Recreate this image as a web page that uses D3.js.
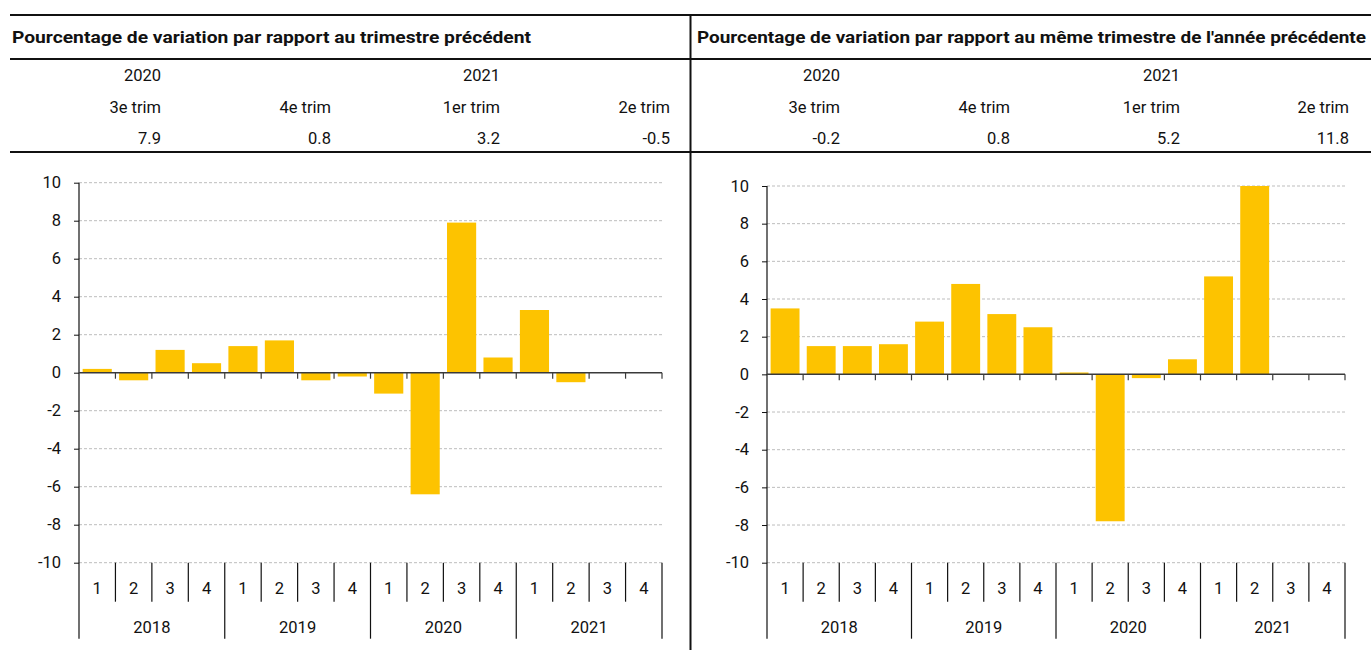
<!DOCTYPE html>
<html>
<head>
<meta charset="utf-8">
<script src="https://cdn.jsdelivr.net/npm/d3@7"></script>
<style>
  body { margin: 0; background: #fff; }
  svg { display: block; font-family: Roboto, "DejaVu Sans", sans-serif; }
  .hdr { font-size: 16.5px; fill: #111; }
  .title { font-size: 17px; font-weight: bold; fill: #111; }
  .tick-label { font-size: 16.5px; fill: #111; }
</style>
</head>
<body>
<svg id="chart" width="1371" height="650"></svg>
<script>
const years = ["2018", "2019", "2020", "2021"];
const quarters = ["1", "2", "3", "4"];

// quarterly change, 2018Q1 .. 2021Q4 (last two quarters not yet published)
const qoqValues = [0.2, -0.4, 1.2, 0.5, 1.4, 1.7, -0.4, -0.2,
                   -1.1, -6.4, 7.9, 0.8, 3.3, -0.5, null, null];
// change on same quarter of previous year
const yoyValues = [3.5, 1.5, 1.5, 1.6, 2.8, 4.8, 3.2, 2.5,
                   0.1, -7.8, -0.2, 0.8, 5.2, 11.8, null, null];

const headerYears = ["2020", "", "2021", ""];
const headerQuarters = ["3e trim", "4e trim", "1er trim", "2e trim"];
const qoqHeader = ["7.9", "0.8", "3.2", "-0.5"];
const yoyHeader = ["-0.2", "0.8", "5.2", "11.8"];

const titles = [
  "Pourcentage de variation par rapport au trimestre précédent",
  "Pourcentage de variation par rapport au même trimestre de l'année précédente"
];

const yTicks = d3.range(-10, 11, 2);

const svg = d3.select("#chart");

// table frame
svg.append("g")
  .attr("class", "frame")
  .selectAll("line")
  .data([15, 59, 152])
  .enter().append("line")
  .attr("x1", 10)
  .attr("x2", 1371)
  .attr("y1", d => d)
  .attr("y2", d => d)
  .style("stroke", "#111")
  .style("stroke-width", 2);

svg.append("line")
  .attr("x1", 690.5).attr("x2", 690.5)
  .attr("y1", 15).attr("y2", 650)
  .style("stroke", "#111")
  .style("stroke-width", 2);

const drawHeader = (title, values, titleX, titleW, colRight) => {
  const g = svg.append("g").attr("class", "header");

  g.append("text")
    .attr("class", "title")
    .attr("x", titleX)
    .attr("y", 43)
    .attr("textLength", titleW)
    .attr("lengthAdjust", "spacingAndGlyphs")
    .text(title);

  const rows = [headerYears, headerQuarters, values];
  const baselines = [81, 113, 144];

  rows.forEach((row, r) => {
    g.selectAll(null)
      .data(row)
      .enter().append("text")
      .attr("class", "hdr")
      .attr("x", (d, i) => colRight[i])
      .attr("y", baselines[r])
      .style("text-anchor", "end")
      .text(d => d);
  });
};

const drawPanel = (values, x0, x1, yTop, yBot) => {
  const cats = years.flatMap(yr => quarters.map(q => yr + "-" + q));

  const x = d3.scaleBand()
    .domain(cats)
    .range([x0, x1])
    .paddingInner(0.2)
    .paddingOuter(0.1);

  const y = d3.scaleLinear()
    .domain([-10, 10])
    .range([yBot, yTop])
    .clamp(true);

  const g = svg.append("g");

  // dashed grid
  g.append("g")
    .selectAll("line")
    .data(yTicks.filter(d => d !== 0))
    .enter().append("line")
    .attr("x1", x0)
    .attr("x2", x1)
    .attr("y1", d => y(d))
    .attr("y2", d => y(d))
    .style("stroke", "#bdbdbd")
    .style("stroke-dasharray", "3,2")
    .style("stroke-width", 1);

  // bars
  g.append("g")
    .selectAll("rect")
    .data(values.map((v, i) => ({key: cats[i], value: v})).filter(d => d.value !== null))
    .enter().append("rect")
    .attr("x", d => x(d.key))
    .attr("width", x.bandwidth())
    .attr("y", d => y(Math.max(0, d.value)))
    .attr("height", d => Math.abs(y(d.value) - y(0)))
    .style("fill", "#fdc300");

  // y axis
  const yAxis = d3.axisLeft(y)
    .tickValues(yTicks)
    .tickSize(5)
    .tickPadding(13)
    .tickFormat(d => String(d));

  const ya = g.append("g")
    .attr("transform", "translate(" + x0 + ",0)")
    .call(yAxis);

  ya.select(".domain").remove();
  ya.selectAll(".tick line").style("stroke", "#111");
  ya.selectAll(".tick text")
    .attr("class", "tick-label")
    .style("font-family", "Roboto, sans-serif")
    .style("fill", "#111");
  ya.attr("font-size", null);

  g.append("line")
    .attr("x1", x0).attr("x2", x0)
    .attr("y1", yTop).attr("y2", yBot + 76)
    .style("stroke", "#111")
    .style("stroke-width", 1.2);

  // zero line with small ticks between quarters
  const edges = cats.map(c => x(c) - x.step() * x.paddingInner() / 2).slice(1).concat([x1]);

  g.append("line")
    .attr("x1", x0).attr("x2", x1)
    .attr("y1", y(0)).attr("y2", y(0))
    .style("stroke", "#3a3a3a")
    .style("stroke-width", 1.5);

  g.append("g")
    .selectAll("line")
    .data(edges)
    .enter().append("line")
    .attr("x1", d => d).attr("x2", d => d)
    .attr("y1", y(0)).attr("y2", y(0) + 6)
    .style("stroke", "#3a3a3a")
    .style("stroke-width", 1.2);

  // category axis below the plot: quarter row and year row
  g.append("g")
    .selectAll("line")
    .data(edges)
    .enter().append("line")
    .attr("x1", d => d).attr("x2", d => d)
    .attr("y1", yBot)
    .attr("y2", (d, i) => (i % 4 === 3) ? yBot + 76 : yBot + 39)
    .style("stroke", "#111")
    .style("stroke-width", 1.2);

  g.append("g")
    .selectAll("text")
    .data(cats)
    .enter().append("text")
    .attr("class", "tick-label")
    .attr("x", d => x(d) + x.bandwidth() / 2)
    .attr("y", yBot + 31)
    .style("text-anchor", "middle")
    .text(d => d.split("-")[1]);

  const yearWidth = (x1 - x0) / years.length;

  g.append("g")
    .selectAll("text")
    .data(years)
    .enter().append("text")
    .attr("class", "tick-label")
    .attr("x", (d, i) => x0 + yearWidth * (i + 0.5))
    .attr("y", yBot + 70)
    .style("text-anchor", "middle")
    .text(d => d);
};

drawHeader(titles[0], qoqHeader, 12, 519, [161, 331, 500, 670]);
drawHeader(titles[1], yoyHeader, 697, 669, [840, 1010, 1180, 1349]);

drawPanel(qoqValues, 79, 662, 182.7, 562.7);
drawPanel(yoyValues, 767, 1345, 186, 562.7);
</script>
</body>
</html>
